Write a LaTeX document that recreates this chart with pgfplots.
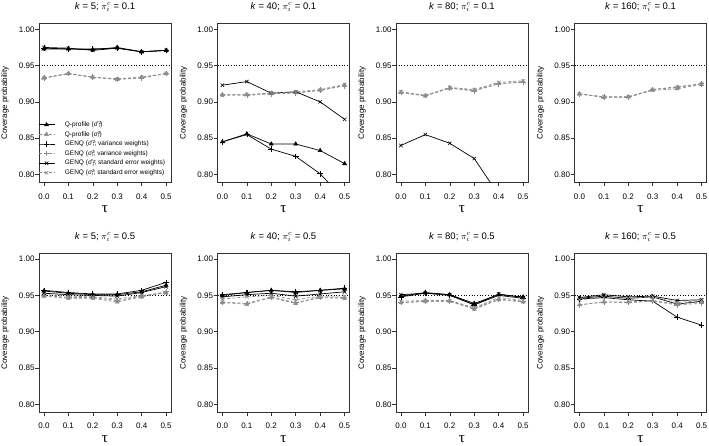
\documentclass[border=0pt]{standalone}
\usepackage{pgfplots}
\pgfplotsset{compat=1.18}
\usepackage{pgfplotstable}
\usepackage{fontspec}
\setmainfont{Liberation Sans}
\newfontfamily\serifgreek{Liberation Serif}

\definecolor{gr}{RGB}{140,140,140}

% columns: tau, Q-profile (hat), Q-profile (true), GENQ var (hat), GENQ var (true), GENQ se (hat), GENQ se (true)
\pgfplotstableread{
tau qb qg vb vg sb sg
0.0 0.973 0.933 0.974 0.933 0.975 0.933
0.1 0.973 0.939 0.973 0.939 0.974 0.939
0.2 0.972 0.934 0.973 0.934 0.971 0.934
0.3 0.975 0.931 0.974 0.931 0.974 0.932
0.4 0.969 0.934 0.969 0.933 0.969 0.934
0.5 0.971 0.939 0.971 0.939 0.971 0.939
}\pA
\pgfplotstableread{
tau qb qg vb vg sb sg
0.0 0.845 0.910 0.845 0.910 0.923 0.909
0.1 0.856 0.910 0.855 0.909 0.928 0.910
0.2 0.842 0.912 0.835 0.911 0.912 0.912
0.3 0.842 0.913 0.825 0.912 0.914 0.914
0.4 0.833 0.916 0.801 0.916 0.900 0.917
0.5 0.815 0.923 0.765 0.922 0.876 0.924
}\pB
\pgfplotstableread{
tau qg vg sb sg
0.0 0.913 0.913 0.840 0.914
0.1 0.908 0.909 0.855 0.909
0.2 0.919 0.919 0.843 0.920
0.3 0.916 0.915 0.822 0.917
0.4 0.925 0.925 0.772 0.927
0.5 0.928 0.927 0.722 0.929
}\pC
\pgfplotstableread{
tau qg vg sg
0.0 0.911 0.911 0.911
0.1 0.906 0.907 0.907
0.2 0.907 0.906 0.907
0.3 0.916 0.917 0.917
0.4 0.918 0.920 0.921
0.5 0.924 0.925 0.925
}\pD
\pgfplotstableread{
tau qb qg vb vg sb sg
0.0 0.956 0.949 0.957 0.950 0.953 0.951
0.1 0.953 0.946 0.954 0.947 0.951 0.949
0.2 0.951 0.946 0.952 0.947 0.950 0.948
0.3 0.951 0.941 0.952 0.943 0.949 0.945
0.4 0.955 0.948 0.957 0.949 0.954 0.950
0.5 0.964 0.954 0.968 0.955 0.962 0.953
}\pE
\pgfplotstableread{
tau qb qg vb vg sb sg
0.0 0.950 0.940 0.951 0.941 0.948 0.945
0.1 0.954 0.938 0.954 0.939 0.951 0.948
0.2 0.957 0.947 0.957 0.948 0.953 0.950
0.3 0.954 0.939 0.955 0.940 0.949 0.944
0.4 0.957 0.947 0.957 0.948 0.952 0.949
0.5 0.959 0.946 0.960 0.947 0.955 0.949
}\pF
\pgfplotstableread{
tau qb qg vb vg sb sg
0.0 0.949 0.940 0.948 0.940 0.951 0.942
0.1 0.954 0.942 0.953 0.942 0.953 0.943
0.2 0.951 0.942 0.950 0.942 0.951 0.943
0.3 0.939 0.931 0.937 0.932 0.937 0.933
0.4 0.951 0.944 0.950 0.945 0.952 0.947
0.5 0.948 0.941 0.946 0.942 0.947 0.943
}\pG
\pgfplotstableread{
tau qb qg vb vg sb sg
0.0 0.946 0.937 0.945 0.937 0.947 0.944
0.1 0.949 0.941 0.947 0.941 0.951 0.947
0.2 0.946 0.941 0.944 0.940 0.948 0.946
0.3 0.948 0.943 0.942 0.942 0.949 0.948
0.4 0.938 0.938 0.920 0.937 0.943 0.940
0.5 0.942 0.941 0.909 0.939 0.944 0.943
}\pH

\pgfplotsset{
  panel/.style={
    scale only axis, width=132pt, height=159pt,
    xmin=-0.02, xmax=0.52, ymin=0.789, ymax=1.008,
    xtick={0,0.1,0.2,0.3,0.4,0.5},
    ytick={0.8,0.85,0.9,0.95,1},
    xticklabel style={yshift=-3.5pt, /pgf/number format/.cd, fixed, fixed zerofill, precision=1},
    yticklabel style={xshift=3pt, /pgf/number format/.cd, fixed, fixed zerofill, precision=2},
    /pgf/number format/assume math mode=true,
    tick label style={font=\fontsize{8}{9}\selectfont},
    tick align=outside, major tick length=4pt,
    xtick pos=bottom, ytick pos=left,
    tick style={black!80, line width=0.5pt},
    axis line style={black!80, line width=0.6pt},
    ylabel={Coverage probability},
    every axis y label/.style={at={(rel axis cs:0,0.5)}, xshift=-34pt, rotate=90, anchor=center, font=\fontsize{8}{9}\selectfont},
    xlabel={\serifgreek τ},
    every axis x label/.style={at={(rel axis cs:0.5,0)}, yshift=-27pt, anchor=center, font=\fontsize{15}{16}\selectfont},
    every axis title/.style={at={(rel axis cs:0.5,1)}, yshift=16.5pt, anchor=center, font=\fontsize{9.5}{11}\selectfont},
    clip=true,
  },
  qb/.style={black, line width=0.7pt, mark=triangle*, mark size=2.3pt, mark options={solid, fill=black, line width=0.5pt}},
  qg/.style={gr, line width=0.7pt, dash pattern=on 3pt off 2pt, mark=triangle*, mark size=2.3pt, mark options={solid, fill=gr, line width=0.5pt}},
  vb/.style={black, line width=0.7pt, mark=+, mark size=2.8pt, mark options={solid, line width=0.6pt}},
  vg/.style={gr, line width=0.7pt, dash pattern=on 3pt off 2pt, mark=+, mark size=2.8pt, mark options={solid, line width=0.6pt}},
  sb/.style={black, line width=0.7pt, mark=x, mark size=2.4pt, mark options={solid, line width=0.6pt}},
  sg/.style={gr, line width=0.7pt, dash pattern=on 3pt off 2pt, mark=x, mark size=2.4pt, mark options={solid, line width=0.6pt}},
  refline/.style={black, line width=0.7pt, dotted, forget plot},
}

\newcommand{\refl}{\addplot[refline] coordinates {(-0.02,0.95) (0.52,0.95)};}
\newcommand{\six}[1]{%
  \addplot[qb] table[x=tau,y=qb] {#1};
  \addplot[qg] table[x=tau,y=qg] {#1};
  \addplot[vb] table[x=tau,y=vb] {#1};
  \addplot[vg] table[x=tau,y=vg] {#1};
  \addplot[sb] table[x=tau,y=sb] {#1};
  \addplot[sg] table[x=tau,y=sg] {#1};
}
\newcommand{\lsp}{\hspace*{9pt}}
% sigma with stacked super-/subscript, set in the text font
\newcommand{\scr}{\rlap{\raisebox{1.9pt}{\fontsize{4.5}{5}\selectfont 2}}\raisebox{-1.2pt}{\fontsize{4.5}{5}\selectfont\itshape i}\kern0.6pt}
\newcommand{\sh}{\textit{σ̂}\scr}
\newcommand{\sv}{\textit{σ}\scr}

\begin{document}
\begin{tikzpicture}
\useasboundingbox (0,0) rectangle (709pt,446pt);

% ---------- top row ----------
\begin{axis}[panel, at={(39pt,263.5pt)}, anchor=south west,
  title={\textit{k} = 5; $\pi_i^c$ = 0.1},
  legend image code/.code={\draw[mark repeat=2, mark phase=2] plot coordinates {(0pt,0pt) (8pt,0pt) (16pt,0pt)};},
  legend style={at={(rel axis cs:0,0)}, anchor=south west, xshift=-1pt, yshift=5.3pt,
    draw=none, fill=none, inner sep=0pt, row sep=1.2pt,
    font=\fontsize{6.5}{7.5}\selectfont,
    nodes={inner sep=1pt, text height=5pt, text depth=1.4pt}},
  legend cell align=left]
\refl
\six{\pA}
\legend{\lsp Q-profile (\sh), \lsp Q-profile (\sv),
  \lsp GENQ (\sh; variance weights), \lsp GENQ (\sv; variance weights),
  \lsp GENQ (\sh; standard error weights), \lsp GENQ (\sv; standard error weights)}
\end{axis}

\begin{axis}[panel, at={(217.5pt,263.5pt)}, anchor=south west,
  title={\textit{k} = 40; $\pi_i^c$ = 0.1}]
\refl
\six{\pB}
\end{axis}

\begin{axis}[panel, at={(396pt,263.5pt)}, anchor=south west,
  title={\textit{k} = 80; $\pi_i^c$ = 0.1}]
\refl
\addplot[qg] table[x=tau,y=qg] {\pC};
\addplot[vg] table[x=tau,y=vg] {\pC};
\addplot[sb] table[x=tau,y=sb] {\pC};
\addplot[sg] table[x=tau,y=sg] {\pC};
\end{axis}

\begin{axis}[panel, at={(574.5pt,263.5pt)}, anchor=south west,
  title={\textit{k} = 160; $\pi_i^c$ = 0.1}]
\refl
\addplot[qg] table[x=tau,y=qg] {\pD};
\addplot[vg] table[x=tau,y=vg] {\pD};
\addplot[sg] table[x=tau,y=sg] {\pD};
\end{axis}

% ---------- bottom row ----------
\begin{axis}[panel, at={(39pt,33.7pt)}, anchor=south west,
  title={\textit{k} = 5; $\pi_i^c$ = 0.5}]
\refl
\six{\pE}
\end{axis}

\begin{axis}[panel, at={(217.5pt,33.7pt)}, anchor=south west,
  title={\textit{k} = 40; $\pi_i^c$ = 0.5}]
\refl
\six{\pF}
\end{axis}

\begin{axis}[panel, at={(396pt,33.7pt)}, anchor=south west,
  title={\textit{k} = 80; $\pi_i^c$ = 0.5}]
\refl
\six{\pG}
\end{axis}

\begin{axis}[panel, at={(574.5pt,33.7pt)}, anchor=south west,
  title={\textit{k} = 160; $\pi_i^c$ = 0.5}]
\refl
\six{\pH}
\end{axis}
\end{tikzpicture}
\end{document}
